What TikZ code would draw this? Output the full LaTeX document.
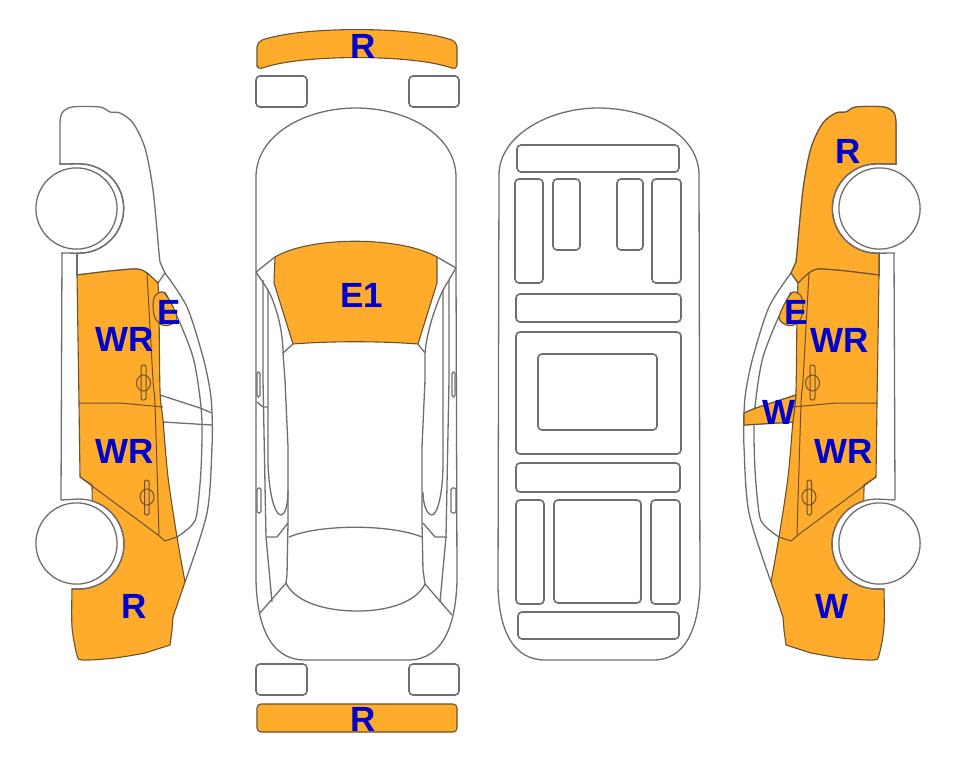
\documentclass[tikz,border=0pt]{standalone}
\usepackage{fontspec}
\setmainfont{Liberation Sans}
\usepackage{xcolor}
\usetikzlibrary{positioning}
\definecolor{paintc}{HTML}{FFAB2B}
\definecolor{edgec}{HTML}{6A5230}
\definecolor{linec}{HTML}{6E6E6E}
\definecolor{labelc}{HTML}{0000CC}

% side view pieces, in the coordinates of the left car
\def\parthood{(60,164) -- plot[smooth] coordinates {(60,123) (62,113) (72,107) (100,107) (110,112) (120,113) (133,123) (145,148) (153,190) (159,253)} -- (160,262) -- (165,273) -- (158,283) -- plot[smooth] coordinates {(147,273) (137,269) (110,271) (77,275)} -- (77,253) -- (79,253.2) arc[start angle=-90, end angle=90, radius=44.7pt] -- cycle}
\def\partbody{(77,275) -- plot[smooth] coordinates {(110,271) (137,269) (147,273) (158,283)} -- plot[smooth] coordinates {(159,300) (160,390) (163,420) (168,477) (177,537) (185,582)} -- (173,617) -- (172,630) -- (170,645) -- plot[smooth] coordinates {(145,653) (115,658) (83,660) (77,655) (72,627) (72,589)} -- (79,589) arc[start angle=-90, end angle=73, radius=45pt] -- (92,485) -- (80,477) -- (79,403) -- cycle}
\def\partmirror{plot[smooth cycle] coordinates {(163,292) (155,296) (153,306) (155,318) (162,325) (170,325) (177,318) (171,303)}}
\def\partglass{(160,395) -- (200,408) -- (212,413) -- (212,425) -- (163,422) -- cycle}

\newcommand{\sideshell}{
  \draw[body] \parthood;
  \draw[body] plot[smooth] coordinates {(165,273) (187,307) (203,357) (210,390) (212,413) (212,447) (207,513) (185,582)};
  \draw[body] plot[smooth] coordinates {(165,292) (180,323) (193,357) (199,390) (202,423) (201,470) (197,513) (192,525) (177,537) (165,541)};
  \draw[body] (160,395) -- (200,408) -- (212,413) (212,425) -- (163,422);
  \draw[body] (62,253) -- (61,500);
  \draw[body] (77,253) -- (77,275);
}
\newcommand{\sidedoors}{
  \draw[seam] plot[smooth] coordinates {(147,273) (153,380) (155,405) (159,535)};
  \draw[seam] (79,403) -- (120,403) -- (163,407);
  \draw[seam] (80,477) -- (158,535) -- (165,541) -- (177,537);
  \draw[seam] (143.5,383) ellipse (7pt and 8pt);
  \draw[seam] (147,497) ellipse (7pt and 8pt);
  \draw[seam, rounded corners=2pt] (141,365) rectangle (146,400);
  \draw[seam, rounded corners=2pt] (144.5,480) rectangle (149,515);
  \draw[body] (59,164) -- (79,163.8) arc[start angle=90, end angle=-90, radius=44.7pt] -- (61,253);
  \draw[body] (61,500) -- (79,499) arc[start angle=90, end angle=-90, radius=45pt] -- (72,589);
  \draw[wheel] (76.5,208.5) circle (40.6pt);
  \draw[wheel] (76.5,543.5) circle (40.6pt);
}

\begin{document}
\begin{tikzpicture}[
    x=1pt, y=-1pt,
    every node/.style={font=\fontsize{35}{35}\selectfont\bfseries, text=labelc, inner sep=0pt},
    body/.style={draw=linec, line width=1.3pt},
    seam/.style={draw=edgec, line width=1pt},
    paint/.style={fill=paintc, draw=edgec, line width=1.1pt},
    wheel/.style={fill=white, draw=linec, line width=1.3pt},
    panel/.style={draw=linec, line width=1.6pt, rounded corners=4pt},
  ]
    \useasboundingbox (0,0) rectangle (963,768);
    % left car
    \sideshell
    \draw[paint] \partbody;
    \draw[paint] \partmirror;
    \sidedoors
    % right car
    \begin{scope}[shift={(956,0)}, xscale=-1]
      \sideshell
      \draw[paint] \parthood;
      \draw[paint] \partbody;
      \draw[paint] \partmirror;
      \draw[paint] \partglass;
      \sidedoors
    \end{scope}
    % top view
    \draw[paint, rounded corners=5pt] (257,70) -- (257,42) .. controls (300,26) and (414,26) .. (457,42) -- (457,70) .. controls (414,54) and (300,54) .. (257,70) -- cycle;
    \draw[paint, rounded corners=4pt] (257,704) rectangle (457,732);
    \foreach \xa/\ya/\xb/\yb in {256/76/307/107, 409/76/459/107, 256/664/307/695, 409/664/459/695}{
      \draw[panel] (\xa,\ya) rectangle (\xb,\yb);}
    \draw[body] (256,272) -- (256,177) .. controls (256,135) and (305,108) .. (356,108) .. controls (407,108) and (456,135) .. (456,177) -- (456,268);
    \draw[body] (256,272) -- (256,580) .. controls (257,625) and (270,660) .. (305,660) -- (408,660) .. controls (443,660) and (456,625) .. (457,580) -- (456,268);
    \draw[paint] (275,257) .. controls (310,236) and (400,236) .. (437,257) -- (437,283) -- (418,344) .. controls (380,341) and (330,341) .. (293,344) -- (274,283) -- cycle;
    \draw[body] (256,272) -- (275,257) (437,257) -- (456,268);
    \draw[body] (256,272) -- (268,290) .. controls (276,305) and (283,330) .. (283,353) -- (285,380) -- (288,447) -- (288,523) -- (287,575) -- (286,583);
    \draw[body] (456,268) -- (443,290) .. controls (436,305) and (427,330) .. (425,353) -- (425,380) -- (422,447) -- (422,523) -- (423,570) -- (425,584);
    \draw[body] (283,353) -- (293,344) (425,353) -- (418,344);
    \draw[body] (263,280) -- (263,380) -- (266,537) -- (272,602);
    \draw[body] (449,280) -- (449,380) -- (446,537) -- (440,602);
    \draw[body] (268,290) -- (268,463) .. controls (269,495) and (275,515) .. (281,515) .. controls (285,515) and (288,505) .. (288,490);
    \draw[body] (443,290) -- (443,463) .. controls (443,495) and (437,515) .. (432,515) .. controls (427,515) and (423,505) .. (423,492);
    \draw[body] (257,402) -- (263,407) -- (268,407);
    \draw[body] (266,537) -- (277,537) -- (288,523);
    \draw[body] (447,537) -- (435,537) -- (423,523);
    \draw[body] (289,537) .. controls (320,524) and (390,524) .. (422,537);
    \draw[body] (286,583) .. controls (295,602) and (325,611) .. (357,611) .. controls (389,611) and (416,602) .. (425,584);
    \draw[body] (286,583) -- (260,613);
    \draw[body] (425,584) -- (452,615);
    \foreach \xa/\ya/\xb/\yb in {257/372/260/397, 452/372/455/397, 257/488/261/513, 451/488/456/513}{
      \draw[body, rounded corners=1.5pt] (\xa,\ya) rectangle (\xb,\yb);}
    % underside view
    \draw[body] (499,175) .. controls (499,135) and (550,108) .. (598,108) .. controls (650,108) and (699,135) .. (699,175) -- (700,587) .. controls (698,630) and (685,660) .. (653,660) -- (545,660) .. controls (513,660) and (499,630) .. (498,587) -- cycle;
    \foreach \xa/\ya/\xb/\yb in {517/145/679/172, 515/179/543/283, 553/179/580/250, 617/179/643/250, 652/179/681/283,
      516/294/681/322, 516/332/681/454, 538/354/657/430, 516/463/680/492,
      516/500/544/604, 554/500/641/603, 651/500/680/604, 518/612/679/639}{
      \draw[panel] (\xa,\ya) rectangle (\xb,\yb);}
    % labels
    \node (ltopr) at (363,46) {R};
    \node (lbotr) at (363,719) {R};
    \node (lwind) at (362,295) {E1};
    \node (lwra) at (125,339) {WR};
    \node (lmira) at (169,312) {E};
    \node (lwrb) at (125,451) {WR};
    \node (lrear) at (134,606) {R};
    \node (lhood) at (848,151) {R};
    \node (lmirb) at (796,312) {E};
    \node (lwrc) at (840,340) {WR};
    \node (lglass) at (779,412) {W};
    \node (lwrd) at (844,451) {WR};
    \node (lfend) at (832,606) {W};
  \end{tikzpicture}
\end{document}
